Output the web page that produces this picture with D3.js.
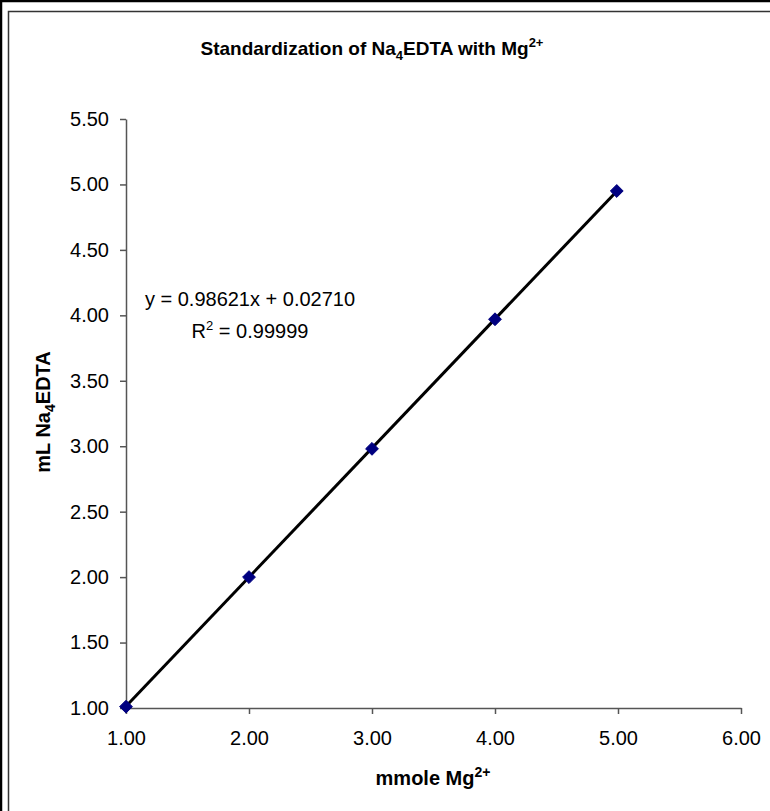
<!DOCTYPE html>
<html>
<head>
<meta charset="utf-8">
<script src="https://cdn.jsdelivr.net/npm/d3@7"></script>
<style>
  html, body { margin: 0; padding: 0; background: #fff; }
  svg { display: block; font-family: Arial, "Liberation Sans", sans-serif; }
</style>
</head>
<body>
<svg id="chart" width="770" height="811"></svg>
<script>
// ---- data ----
const mmoleMg = [1.00, 2.00, 3.00, 4.00, 4.99];
const mLEDTA  = [1.01, 2.00, 2.98, 3.97, 4.95];
const fitSlope = 0.98621;
const fitIntercept = 0.02710;
const fitR2 = 0.99999;
const xTicks = [1, 2, 3, 4, 5, 6];
const yTicks = [1.0, 1.5, 2.0, 2.5, 3.0, 3.5, 4.0, 4.5, 5.0, 5.5];

(function () {
// ---- layout ----
const W = 770, H = 811;
const svg = d3.select("#chart");
const pLeft = 126, pRight = 741, pTop = 119, pBottom = 708;

const x = d3.scaleLinear().domain([1, 6]).range([pLeft, pRight]);
const y = d3.scaleLinear().domain([1, 5.5]).range([pBottom, pTop]);

// frames (chart area extends beyond the visible crop)
svg.append("rect").attr("x", 1).attr("y", 1).attr("width", W + 20).attr("height", H + 20)
  .attr("fill", "#fff").attr("stroke", "#000").attr("stroke-width", 2.5);
svg.append("rect").attr("x", 8.5).attr("y", 11.5).attr("width", W + 20).attr("height", H + 20)
  .attr("fill", "#fff").attr("stroke", "#333").attr("stroke-width", 1.5);

const fmt = d3.format(".2f");

// x axis
const xAxis = svg.append("g").attr("transform", `translate(0,${pBottom})`)
  .call(d3.axisBottom(x).tickValues(xTicks).tickFormat(fmt).tickSize(6).tickSizeOuter(0).tickPadding(17));
// y axis
const yAxis = svg.append("g").attr("transform", `translate(${pLeft},0)`)
  .call(d3.axisLeft(y).tickValues(yTicks).tickFormat(fmt).tickSize(6).tickSizeOuter(0).tickPadding(11));

[xAxis, yAxis].forEach(g => {
  g.select(".domain").attr("stroke", "#555").attr("stroke-width", 1.5);
  g.selectAll(".tick line").attr("stroke", "#555").attr("stroke-width", 1.5);
  g.selectAll(".tick text").attr("fill", "#000").style("font-size", "20px")
    .style("font-family", "Arial, 'Liberation Sans', sans-serif");
});

// trendline
const xMin = d3.min(mmoleMg), xMax = d3.max(mmoleMg);
svg.append("line")
  .attr("x1", x(xMin)).attr("y1", y(fitSlope * xMin + fitIntercept))
  .attr("x2", x(xMax)).attr("y2", y(fitSlope * xMax + fitIntercept))
  .attr("stroke", "#000").attr("stroke-width", 3);

// data markers (diamonds)
const diamond = d3.symbol().type(d3.symbolDiamond2).size(105);
svg.append("g").selectAll("path").data(mmoleMg.map((v, i) => [v, mLEDTA[i]]))
  .join("path")
  .attr("d", diamond)
  .attr("transform", d => `translate(${x(d[0])},${y(d[1])})`)
  .attr("fill", "#000080").attr("stroke", "#000080").attr("stroke-width", 1);

// title
const title = svg.append("text").attr("x", 372).attr("y", 55).attr("text-anchor", "middle")
  .style("font-size", "19px").style("font-weight", "bold");
title.append("tspan").text("Standardization of Na");
title.append("tspan").text("4").attr("dy", 5).style("font-size", "13px");
title.append("tspan").text("EDTA with Mg").attr("dy", -5);
title.append("tspan").text("2+").attr("dy", -8).style("font-size", "13px");

// x axis title
const xt = svg.append("text").attr("x", 433).attr("y", 785).attr("text-anchor", "middle")
  .style("font-size", "20px").style("font-weight", "bold");
xt.append("tspan").text("mmole Mg");
xt.append("tspan").text("2+").attr("dy", -8).style("font-size", "14px");

// y axis title
const yt = svg.append("text").attr("transform", "translate(50,412) rotate(-90)").attr("text-anchor", "middle")
  .style("font-size", "20px").style("font-weight", "bold");
yt.append("tspan").text("mL Na");
yt.append("tspan").text("4").attr("dy", 5).style("font-size", "14px");
yt.append("tspan").text("EDTA").attr("dy", -5);

// equation
svg.append("text").attr("x", 250).attr("y", 306).attr("text-anchor", "middle")
  .style("font-size", "20px")
  .text(`y = ${fitSlope.toFixed(5)}x + ${fitIntercept.toFixed(5)}`);
const r2 = svg.append("text").attr("x", 250).attr("y", 338).attr("text-anchor", "middle")
  .style("font-size", "20px");
r2.append("tspan").text("R");
r2.append("tspan").text("2").attr("dy", -8).style("font-size", "13px");
r2.append("tspan").text(` = ${fitR2.toFixed(5)}`).attr("dy", 8);
})();
</script>
</body>
</html>
